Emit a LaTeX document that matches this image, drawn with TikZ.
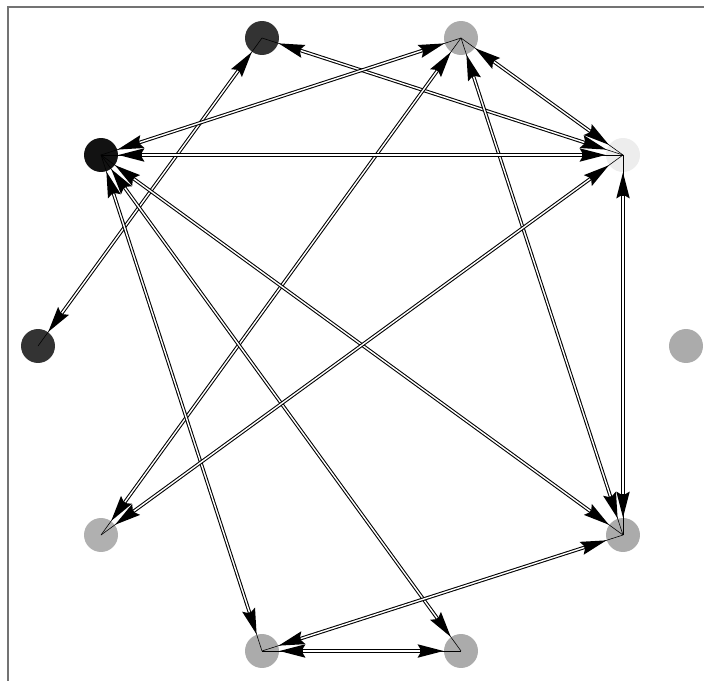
\documentclass[tikz,border=0pt]{standalone}
\usepackage{tikz}
\usetikzlibrary{arrows.meta}

\begin{document}
\begin{tikzpicture}[x=0.03cm,y=-0.03cm,
    vertex/.style={circle,inner sep=0pt,minimum size=29pt},
    outerlink/.style={black,line width=3pt,
      {Stealth[length=22pt,width=11pt,inset=3pt]}-{Stealth[length=22pt,width=11pt,inset=3pt]}},
    innerlink/.style={white,line width=1.2pt,shorten <=20pt,shorten >=20pt}]
    \useasboundingbox (0,0) rectangle (704,681);
    % frame
    \draw[black!55,line width=1.3pt] (8,681) -- (8,7) -- (704,7);

    % -------------------------
    % vertices
    % -------------------------
    \node[vertex,fill=black!80] (v1) at (262,38) {};
    \node[vertex,fill=black!33] (v2) at (461,38) {};
    \node[vertex,fill=black!93] (v3) at (101,155) {};
    \node[vertex,fill=black!7]  (v4) at (623,155) {};
    \node[vertex,fill=black!80] (v5) at (38,346) {};
    \node[vertex,fill=black!33] (v6) at (686,346) {};
    \node[vertex,fill=black!31] (v7) at (101,535) {};
    \node[vertex,fill=black!33] (v8) at (623,535) {};
    \node[vertex,fill=black!33] (v9) at (262,651) {};
    \node[vertex,fill=black!33] (v10) at (461,651) {};

    % -------------------------
    % links (black line, white core)
    % -------------------------
    \foreach \s/\t in {v1/v5, v1/v4, v2/v3, v2/v4, v2/v7, v2/v8, v3/v4,
                       v3/v8, v3/v9, v3/v10, v4/v7, v4/v8, v8/v9, v9/v10}
    {
      \draw[black,line width=0.5pt] (\s.center) -- (\t.center);
      \draw[outerlink] (\s) -- (\t);
      \draw[innerlink] (\s) -- (\t);
    }

\end{tikzpicture}
\end{document}
